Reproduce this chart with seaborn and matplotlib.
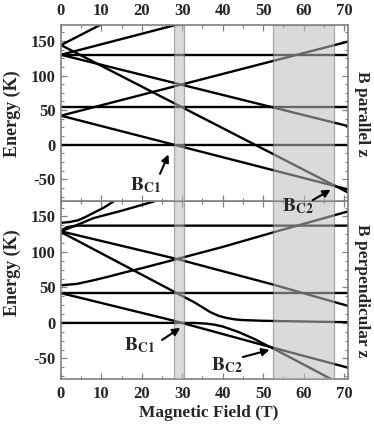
import numpy as np
import pandas as pd
import matplotlib
matplotlib.use("Agg")
import matplotlib.pyplot as plt
from matplotlib.ticker import MultipleLocator
import seaborn as sns

# B parallel z : energy levels (field points in T, energies in K)
par_fields = [
    [0, 71],
    [0, 71],
    [0, 71],
    [0, 71],
    [0, 71],
    [0, 71],
    [0, 71],
    [0, 10],
    [0, 29],
]
par_energies = [
    [0, 0],
    [54, 54],
    [129, 129],
    [42, -64.5],
    [42, 149],
    [130, 27],
    [144, -69],
    [144, 174],
    [130, 174],
]

# B perpendicular z
perp_fields = [
    [0, 33, 36, 38, 40, 42, 44, 46, 48, 50, 52.5, 67.5],
    [0, 28, 52.5, 71],
    [0, 28.3, 33, 35, 37, 39, 41, 43, 45, 50, 60, 71],
    [0, 71],
    [0, 4, 8, 12, 16, 20, 28.7, 40, 52.5, 71],
    [0, 28.7, 52.5, 71],
    [0, 1.5, 4, 71],
    [0, 4, 8, 15, 23],
    [0, 2, 4.2, 6, 8.4, 10.5, 13],
]
perp_energies = [
    [0, 0, -1, -2.5, -5, -9, -13, -18, -23, -29, -36, -81],
    [42, 3, -35, -63],
    [128, 43, 29, 22, 15, 10, 7, 5, 4, 3, 2, 1],
    [42, 42],
    [53, 55, 60, 65.5, 71.5, 77, 90, 107, 127.5, 157],
    [129, 90, 54, 24],
    [130, 135, 137, 137],
    [129, 138, 147.5, 158, 171],
    [141, 142, 144.5, 149, 156, 162, 171],
]

# critical field windows (T)
bc_windows = [(28, 30.5), (52.5, 67.5)]

x_ticks = [0, 10, 20, 30, 40, 50, 60, 70]
y_ticks = [-50, 0, 50, 100, 150]


def to_frame(fields, energies):
    rows = []
    for i, (bs, es) in enumerate(zip(fields, energies)):
        for b, e in zip(bs, es):
            rows.append({"level": i, "field": b, "energy": e})
    return pd.DataFrame(rows)


sns.set_style("ticks")
plt.rcParams["font.family"] = ["Liberation Serif", "DejaVu Serif"]
plt.rcParams["font.weight"] = "bold"
plt.rcParams["mathtext.fontset"] = "stix"
plt.rcParams["axes.unicode_minus"] = False

fig = plt.figure(figsize=(3.74, 4.26), dpi=100)
ax_top = fig.add_axes([0.163, 0.527, 0.7674, 0.4143])
ax_bot = fig.add_axes([0.163, 0.1103, 0.7674, 0.4167])
ax_top.set_zorder(2)

panels = [
    (ax_top, to_frame(par_fields, par_energies), (-82, 173), "B parallel z"),
    (ax_bot, to_frame(perp_fields, perp_energies), (-79, 171), "B perpendicular z"),
]

for ax, df, ylim, side in panels:
    sns.lineplot(data=df, x="field", y="energy", units="level", estimator=None,
                 sort=False, color="black", lw=1.7, ax=ax, legend=False)
    for lo, hi in bc_windows:
        ax.axvspan(lo, hi, facecolor="#bdbdbd", alpha=0.55, edgecolor="#707070",
                   lw=0.9, zorder=5)
    ax.set_xlim(0, 71)
    ax.set_ylim(*ylim)
    ax.set_xticks(x_ticks)
    ax.set_yticks(y_ticks)
    ax.xaxis.set_minor_locator(MultipleLocator(5))
    ax.yaxis.set_minor_locator(MultipleLocator(12.5))
    ax.tick_params(which="both", direction="in", top=True, bottom=True,
                   left=True, right=True, color="#808080", labelsize=12)
    ax.tick_params(which="major", length=4, width=0.9)
    ax.tick_params(which="minor", length=2.5, width=0.8)
    ax.tick_params(axis="y", pad=4)
    for s in ax.spines.values():
        s.set_color("#808080")
        s.set_linewidth(1.2)
    ax.set_ylabel("Energy (K)", fontsize=13, fontweight="bold")
    ax.text(1.049, 0.5, side, transform=ax.transAxes, rotation=270,
            ha="center", va="center", fontsize=12.5, fontweight="bold")

ax_top.tick_params(axis="x", labeltop=True, labelbottom=False, pad=4)
ax_top.set_xlabel("")
ax_top.yaxis.set_label_coords(-0.14, 0.5)
ax_bot.tick_params(axis="x", labeltop=False, labelbottom=True, pad=5)
ax_bot.set_xlabel("Magnetic Field (T)", fontsize=12.5, fontweight="bold")
ax_bot.xaxis.set_label_coords(0.514, -0.145)
ax_bot.yaxis.set_label_coords(-0.14, 0.6)

arrow = dict(arrowstyle="-|>", color="black", lw=1.5, mutation_scale=11,
             shrinkA=0, shrinkB=0)
lab = r"$\mathbf{B_{C1}}$"
lab2 = r"$\mathbf{B_{C2}}$"

# parallel panel labels
ax_top.text(21.0, -58, lab, fontsize=14, ha="center", va="center", zorder=10)
ax_top.annotate("", xy=(26.6, -14), xytext=(24.5, -42), arrowprops=arrow, zorder=10)
ax_top.text(58.5, -88, lab2, fontsize=14, ha="center", va="center", zorder=10,
            clip_on=False)
ax_top.annotate("", xy=(66.7, -65), xytext=(62.3, -80), arrowprops=arrow, zorder=10)

# perpendicular panel labels
ax_bot.text(19.4, -31, lab, fontsize=14, ha="center", va="center", zorder=10)
ax_bot.annotate("", xy=(29.5, -7), xytext=(25.0, -24), arrowprops=arrow, zorder=10)
ax_bot.text(41.0, -59, lab2, fontsize=14, ha="center", va="center", zorder=10)
ax_bot.annotate("", xy=(51.6, -38), xytext=(45.0, -48), arrowprops=arrow, zorder=10)

fig.savefig("out.png", dpi=100)
